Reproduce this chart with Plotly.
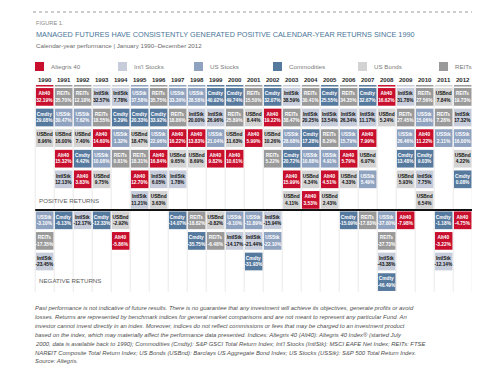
import plotly.graph_objects as go

# ---------------- data (calendar-year returns, %) ----------------
years = list(range(1990, 2013))
alt40 = [32.19, 15.32, 3.83, 14.60, -5.86, 12.70, 16.84, 16.22, 13.83, 9.82, 10.61, 5.99,
         19.22, 15.99, 3.53, 4.51, 5.79, 7.99, 16.62, -7.98, 11.22, -3.22, -4.75]
intl_stocks = [-23.45, 12.13, -12.17, 32.57, 7.78, 11.21, 6.05, 1.78, 20.00, 26.96, -14.17, -21.44,
               -15.94, 38.59, 20.25, 13.54, 26.34, 11.17, -43.38, 31.78, 7.75, -12.14, 17.32]
us_stocks = [-3.10, 30.47, 7.62, 10.08, 1.32, 37.58, 22.96, 33.36, 28.58, 21.04, -9.10, -11.89,
             -22.10, 28.68, 10.88, 4.91, 15.79, 5.49, -37.00, 26.46, 15.06, 2.11, 16.00]
commodities = [29.08, -6.13, 4.42, -12.33, 5.29, 20.33, 33.92, -14.07, -35.75, 40.92, 49.74, -31.93,
               32.07, 20.72, 17.28, 25.55, -15.09, 32.67, -46.49, 13.48, 9.03, -1.18, 0.08]
us_bonds = [8.96, 16.00, 7.40, 9.75, -2.92, 18.47, 3.63, 9.65, 8.69, -0.82, 11.63, 8.44,
            10.26, 4.11, 4.34, 2.43, 4.33, 6.97, 5.24, 5.93, 6.54, 7.84, 4.22]
reits = [-17.35, 35.70, 12.18, 18.55, 0.81, 18.31, 35.75, 18.86, -18.82, -6.48, 25.89, 15.50,
         5.22, 38.47, 30.41, 8.29, 34.35, -17.83, -37.73, 27.45, 27.56, 7.28, 19.73]

series_names = ["Altegris 40", "Int'l Stocks", "US Stocks", "Commodities", "US Bonds", "REITs"]
short_labels = ["Alt40", "IntlStk", "USStk", "Cmdty", "USBnd", "REITs"]
series_values = [alt40, intl_stocks, us_stocks, commodities, us_bonds, reits]

# ---------------- styles ----------------
FONT = "Liberation Sans, Arial, sans-serif"
fill_colors = ["#c8102e", "#c6ccda", "#8fa2bf", "#56799e", "#d3d3d3", "#9a9a9a"]
text_colors = ["#ffffff", "#111111", "#ffffff", "#ffffff", "#111111", "#ffffff"]

BOX_H = 0.86
BOX_W = 0.92
POS_TOP = 5.92
NEG_TOP = -0.07
W, H = 480, 375
ZERO_PX = 202.0
ROW_PX = 20.6
COL_PX = 19.0
FIRST_COL_PX = 36.7

# rank every value within its year (positives from the top, negatives below zero)
n_years = len(years)
row_top = {}
top_asset = {}
for yi in range(n_years):
    vals = [(series_values[s][yi], s) for s in range(len(series_values))]
    pos = sorted([t for t in vals if t[0] >= 0], key=lambda t: -t[0])
    neg = sorted([t for t in vals if t[0] < 0], key=lambda t: -t[0])
    for r, (v, s) in enumerate(pos):
        row_top[(s, yi)] = POS_TOP - r
    for r, (v, s) in enumerate(neg):
        row_top[(s, yi)] = NEG_TOP - r
    top_asset[yi] = pos[0][1]

fig = go.Figure()
for s in range(len(series_values)):
    xs, bases, texts = [], [], []
    for yi, yr in enumerate(years):
        v = series_values[s][yi]
        xs.append(yr)
        bases.append(row_top[(s, yi)] - BOX_H)
        texts.append(f"<b>{short_labels[s]}<br>{v:.2f}%</b>")
    fig.add_trace(go.Bar(
        x=xs, y=[BOX_H] * len(xs), base=bases, width=BOX_W,
        name=series_names[s], showlegend=False,
        marker=dict(color=fill_colors[s], line=dict(width=0)),
        text=texts, textposition="inside", insidetextanchor="middle",
        textangle=0, constraintext="none",
        textfont=dict(color=text_colors[s], size=4.8, family=FONT),
        hoverinfo="skip",
    ))

# year header labels
fig.add_trace(go.Scatter(
    x=years, y=[6.27] * n_years, mode="text",
    text=[f"<b>{y}</b>" for y in years],
    textfont=dict(size=6.1, color="#2b2b2b", family=FONT),
    showlegend=False, hoverinfo="skip",
))

shapes = []
# column separators
for yi in range(n_years + 1):
    xb = years[0] - 0.5 + yi
    shapes.append(dict(type="line", xref="x", yref="y", x0=xb, x1=xb, y0=6.0, y1=-3.97,
                       line=dict(color="#e9e9e9", width=1), layer="below"))
# underline of each year in the colour of its best performer
for yi, yr in enumerate(years):
    shapes.append(dict(type="line", xref="x", yref="y", x0=yr - BOX_W / 2, x1=yr + BOX_W / 2,
                       y0=6.03, y1=6.03, line=dict(color=fill_colors[top_asset[yi]], width=1.5)))
# zero line
shapes.append(dict(type="line", xref="x", yref="y", x0=years[0] - 0.5, x1=years[-1] + 0.5,
                   y0=0, y1=0, line=dict(color="#111111", width=2)))
# dotted rule at the top
shapes.append(dict(type="line", xref="paper", yref="paper", x0=25 / W, x1=467 / W,
                   y0=1 - 4 / H, y1=1 - 4 / H, line=dict(color="#9a9a9a", width=1, dash="dot")))


def ann(text, xpx, ypx, size, color, italic=False):
    return dict(text=text, x=xpx / W, y=1 - ypx / H, xref="paper", yref="paper",
                xanchor="left", yanchor="middle", showarrow=False, align="left",
                font=dict(size=size, color=color, family=FONT, style="italic" if italic else "normal"))


annotations = [
    ann("FIGURE 1.", 26, 15, 5.6, "#8a8a8a"),
    ann("MANAGED FUTURES HAVE CONSISTENTLY GENERATED POSITIVE CALENDAR-YEAR RETURNS SINCE 1990",
        26, 26, 7.3, "#4a7598"),
    ann("Calendar-year performance | January 1990–December 2012", 26, 38, 6.2, "#6b6b6b"),
    ann("POSITIVE RETURNS", 29, 192, 6.2, "#5a5a5a"),
    ann("NEGATIVE RETURNS", 29, 272, 6.2, "#5a5a5a"),
]

# legend (manual swatches + labels)
legend_x = [27, 110, 186, 265, 350, 431]
for s, lx in enumerate(legend_x):
    shapes.append(dict(type="rect", xref="paper", yref="paper",
                       x0=lx / W, x1=(lx + 9) / W, y0=1 - 63 / H, y1=1 - 54 / H,
                       fillcolor=fill_colors[s], line=dict(width=0)))
    annotations.append(ann(series_names[s], lx + 14, 58.5, 6.2, "#7a7a7a"))

footnote_lines = [
    "Past performance is not indicative of future results. There is no guarantee that any investment will achieve its objectives, generate profits or avoid",
    "losses. Returns are represented by benchmark indices for general market comparisons and are not meant to represent any particular Fund. An",
    "investor cannot invest directly in an index. Moreover, indices do not reflect commissions or fees that may be charged to an investment product",
    "based on the index, which may materially affect the performance data presented. Indices: Altegris 40 (Alt40): Altegris 40 Index® (started July",
    "2000, data is available back to 1990); Commodities (Cmdty): S&amp;P GSCI Total Return Index; Int'l Stocks (IntlStk): MSCI EAFE Net Index; REITs: FTSE",
    "NAREIT Composite Total Return Index; US Bonds (USBnd): Barclays US Aggregate Bond Index; US Stocks (USStk): S&amp;P 500 Total Return Index.",
    "Source: Altegris.",
]
for i, line in enumerate(footnote_lines):
    annotations.append(ann(line, 25, 300 + 8.9 * i, 5.9, "#4d4d4d", italic=True))

x0 = years[0] - FIRST_COL_PX / COL_PX
x1 = years[0] + (W - FIRST_COL_PX) / COL_PX
y1 = ZERO_PX / ROW_PX
y0 = -(H - ZERO_PX) / ROW_PX

fig.update_layout(
    width=W, height=H,
    margin=dict(l=0, r=0, t=0, b=0, pad=0),
    paper_bgcolor="white", plot_bgcolor="white",
    barmode="overlay",
    font=dict(family=FONT, size=7, color="#555555"),
    xaxis=dict(range=[x0, x1], visible=False, fixedrange=True),
    yaxis=dict(range=[y0, y1], visible=False, fixedrange=True),
    showlegend=False,
    shapes=shapes,
    annotations=annotations,
)

fig.write_html("out.html")
